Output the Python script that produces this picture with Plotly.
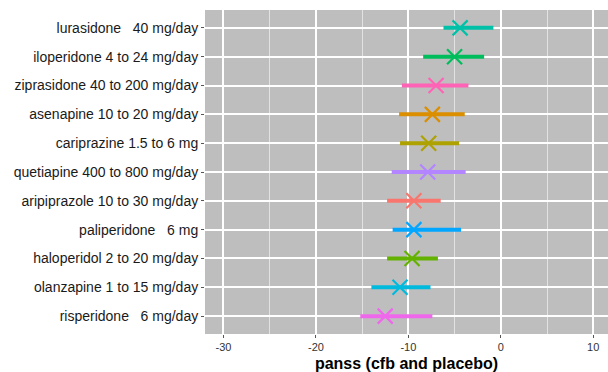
import plotly.graph_objects as go

# Drugs listed bottom to top as they appear on the y axis
drugs = [
    "risperidone\u00a0\u00a0\u00a06 mg/day",
    "olanzapine 1 to 15 mg/day",
    "haloperidol 2 to 20 mg/day",
    "paliperidone\u00a0\u00a0\u00a06 mg",
    "aripiprazole 10 to 30 mg/day",
    "quetiapine 400 to 800 mg/day",
    "cariprazine 1.5 to 6 mg",
    "asenapine 10 to 20 mg/day",
    "ziprasidone 40 to 200 mg/day",
    "iloperidone 4 to 24 mg/day",
    "lurasidone\u00a0\u00a0\u00a040 mg/day",
]
estimate = [-12.5, -10.9, -9.6, -9.4, -9.4, -7.9, -7.8, -7.4, -7.0, -5.0, -4.4]
lower = [-15.2, -14.0, -12.3, -11.7, -12.3, -11.8, -10.9, -11.0, -10.7, -8.4, -6.2]
upper = [-7.4, -7.6, -6.8, -4.3, -6.5, -3.8, -4.5, -3.9, -3.5, -1.8, -0.8]
colors = ["#EF67EB", "#00BADE", "#64B200", "#00A6FF", "#F8766D", "#B385FF",
          "#AEA200", "#DB8E00", "#FF63B6", "#00BD5C", "#00C1A7"]

x_ticks = [-30, -20, -10, 0, 10]

fig = go.Figure()
for d, est, lo, hi, c in zip(drugs, estimate, lower, upper, colors):
    fig.add_trace(go.Scatter(
        x=[est], y=[d], mode="markers",
        marker=dict(symbol="x-thin-open", size=15, color=c,
                    line=dict(width=2.2, color=c)),
        error_x=dict(type="data", symmetric=False,
                     array=[hi - est], arrayminus=[est - lo],
                     color=c, thickness=4, width=0),
        showlegend=False,
    ))

fig.update_layout(
    width=608, height=372,
    margin=dict(l=205, r=0, t=10, b=38),
    paper_bgcolor="white",
    plot_bgcolor="#BEBEBE",
    font=dict(family="Liberation Sans, Arial, sans-serif", color="#222"),
)
fig.update_xaxes(
    range=[-32, 11.6],
    tickvals=x_ticks, ticktext=[str(v) for v in x_ticks],
    tickfont=dict(size=11, color="#333333"),
    showgrid=True, gridcolor="white", gridwidth=1.6,
    minor=dict(tickvals=[-25, -15, -5, 5], showgrid=True,
               gridcolor="#E2E2E2", gridwidth=0.8),
    zeroline=False,
    ticks="outside", ticklen=3, tickcolor="#555",
    title=dict(text="<b>panss (cfb and placebo)</b>",
               font=dict(size=16, color="black"), standoff=6),
    automargin=False,
)
fig.update_yaxes(
    type="category", categoryorder="array", categoryarray=drugs,
    range=[-0.62, 10.62],
    tickfont=dict(size=14, color="#1A1A1A"),
    showgrid=True, gridcolor="white", gridwidth=1.6,
    zeroline=False,
    ticks="outside", ticklen=3, tickcolor="#555",
    automargin=False,
)

fig.write_html("out.html")
